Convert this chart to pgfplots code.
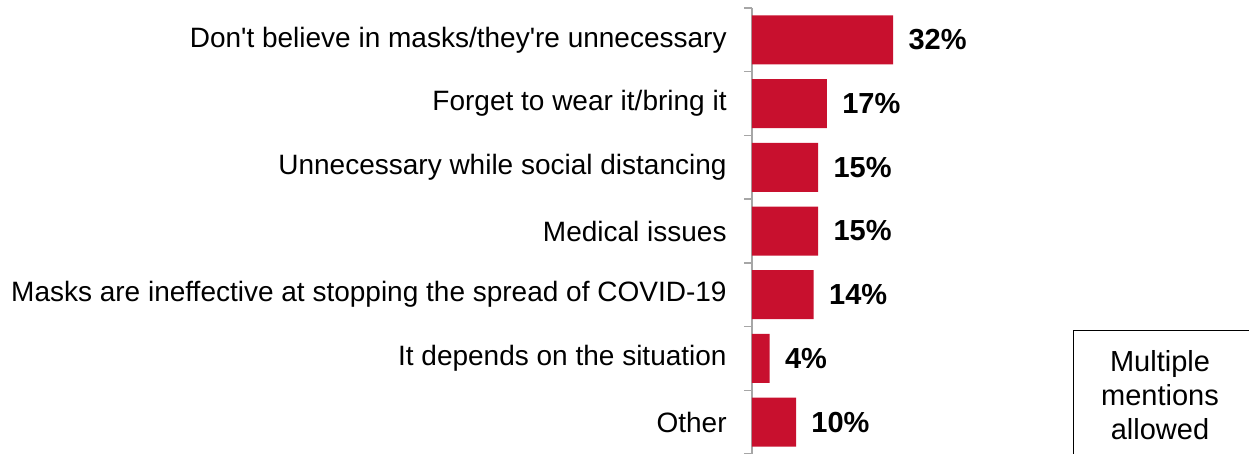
\documentclass[border=0pt]{standalone}
\usepackage{fontspec}
\setmainfont{Liberation Sans}[Ligatures=TeXOff]
\usepackage{pgfplots}
\pgfplotsset{compat=1.18}
\definecolor{barred}{HTML}{C8102E}
\definecolor{axisgray}{HTML}{A6A6A6}
\begin{document}
\begin{tikzpicture}
\path[use as bounding box] (0,0) rectangle (624.5pt,227pt);
\clip (0,0) rectangle (624.5pt,227pt);
\begin{axis}[
  at={(376pt,0pt)}, anchor=south west,
  scale only axis, width=110.25pt, height=223pt,
  xbar, bar width=24.5pt,
  xmin=0, xmax=50, ymin=-0.5, ymax=6.5, y dir=reverse,
  hide x axis,
  axis y line*=left,
  ytick={0,...,6},
  yticklabels={Don't believe in masks/they're unnecessary,
    Forget to wear it/bring it,
    Unnecessary while social distancing,
    Medical issues,
    Masks are ineffective at stopping the spread of COVID-19,
    It depends on the situation,
    Other},
  major tick length=0pt,
  minor ytick={-0.5,0.5,...,6.5},
  minor tick length=4pt,
  tick align=outside,
  tick style={axisgray, line width=0.75pt},
  y axis line style={axisgray, line width=0.75pt},
  yticklabel style={font=\fontsize{14}{16}\selectfont, inner sep=0pt, xshift=-12.5pt},
  point meta=x,
  /pgf/number format/assume math mode=true,
  nodes near coords={\pgfmathprintnumber{\pgfplotspointmeta}\%},
  nodes near coords style={font=\fontsize{14.5}{17}\selectfont\bfseries,
    inner sep=0pt, anchor=west, xshift=7.5pt, text=black},
  clip=false
]
\addplot[fill=barred, draw=none] coordinates {(32,0) (17,1) (15,2) (15,3) (14,4) (4,5) (10,6)};
\end{axis}
\draw[line width=0.5pt, black] (536.5pt,-5pt) rectangle (640pt,61.5pt);
\node[align=center, font=\fontsize{14.5}{17}\selectfont] at (580pt,29.5pt) {Multiple\\mentions\\allowed};
\end{tikzpicture}
\end{document}
